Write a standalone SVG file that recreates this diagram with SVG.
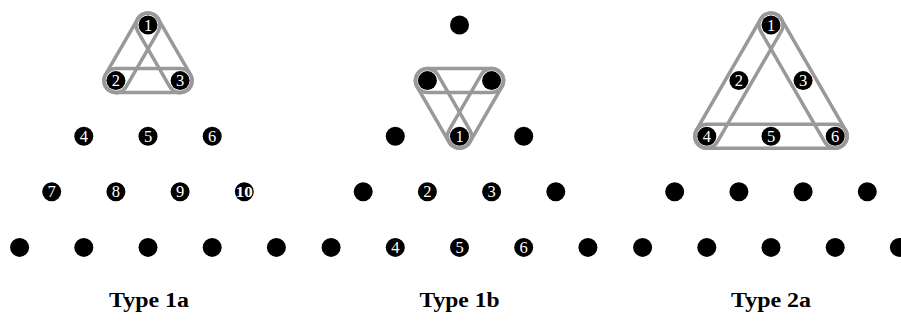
<svg xmlns="http://www.w3.org/2000/svg" xmlns:xlink="http://www.w3.org/1999/xlink" width="901" height="325" viewBox="0 0 901 325">
<style>
.d{fill:#000}
.n{font-family:"Liberation Serif","DejaVu Serif",serif;font-size:16.5px;fill:#fff;text-anchor:middle}
.t{font-family:"Liberation Serif","DejaVu Serif",serif;font-size:20px;font-weight:bold;fill:#000;text-anchor:middle}
.c{fill:none;stroke:#999;stroke-width:3.5}
</style>
<defs>
<path id="cap1" d="M0,12 H64.2 A12,12 0 0 0 64.2,-12 H0 A12,12 0 0 0 0,12 Z"/>
<path id="cap2" d="M0,12 H128.4 A12,12 0 0 0 128.4,-12 H0 A12,12 0 0 0 0,12 Z"/>
</defs>
<rect width="901" height="325" fill="#fff"/>
<g id="connectors" class="c">
<use xlink:href="#cap1" transform="translate(115.9,80.6)"/>
<use xlink:href="#cap1" transform="translate(148,25) rotate(120)"/>
<use xlink:href="#cap1" transform="translate(148,25) rotate(60)"/>
<use xlink:href="#cap1" transform="translate(427.4,80.6)"/>
<use xlink:href="#cap1" transform="translate(427.4,80.6) rotate(60)"/>
<use xlink:href="#cap1" transform="translate(491.6,80.6) rotate(120)"/>
<use xlink:href="#cap2" transform="translate(706.8,136.2)"/>
<use xlink:href="#cap2" transform="translate(771,25) rotate(120)"/>
<use xlink:href="#cap2" transform="translate(771,25) rotate(60)"/>
</g>
<!-- Type 1a -->
<g id="a1"><circle class="d" cx="148" cy="25" r="9.5"/><text class="n" x="148" y="30.6">1</text></g>
<g id="a2"><circle class="d" cx="115.9" cy="80.6" r="9.5"/><text class="n" x="115.9" y="86.2">2</text></g>
<g id="a3"><circle class="d" cx="180.1" cy="80.6" r="9.5"/><text class="n" x="180.1" y="86.2">3</text></g>
<g id="a4"><circle class="d" cx="83.8" cy="136.2" r="9.5"/><text class="n" x="83.8" y="141.8">4</text></g>
<g id="a5"><circle class="d" cx="148" cy="136.2" r="9.5"/><text class="n" x="148" y="141.8">5</text></g>
<g id="a6"><circle class="d" cx="212.2" cy="136.2" r="9.5"/><text class="n" x="212.2" y="141.8">6</text></g>
<g id="a7"><circle class="d" cx="51.7" cy="191.8" r="9.5"/><text class="n" x="51.7" y="197.4">7</text></g>
<g id="a8"><circle class="d" cx="115.9" cy="191.8" r="9.5"/><text class="n" x="115.9" y="197.4">8</text></g>
<g id="a9"><circle class="d" cx="180.1" cy="191.8" r="9.5"/><text class="n" x="180.1" y="197.4">9</text></g>
<g id="a10"><circle class="d" cx="244.3" cy="191.8" r="9.5"/><text class="n" x="244.3" y="196.7" style="font-size:14px;font-weight:bold" textLength="17" lengthAdjust="spacingAndGlyphs">10</text></g>
<g id="a11"><circle class="d" cx="19.6" cy="247.4" r="9.5"/></g>
<g id="a12"><circle class="d" cx="83.8" cy="247.4" r="9.5"/></g>
<g id="a13"><circle class="d" cx="148" cy="247.4" r="9.5"/></g>
<g id="a14"><circle class="d" cx="212.2" cy="247.4" r="9.5"/></g>
<g id="a15"><circle class="d" cx="276.4" cy="247.4" r="9.5"/></g>
<!-- Type 1b -->
<g id="b0"><circle class="d" cx="459.5" cy="25" r="9.5"/></g>
<g id="bA"><circle class="d" cx="427.4" cy="80.6" r="9.5"/></g>
<g id="bB"><circle class="d" cx="491.6" cy="80.6" r="9.5"/></g>
<g id="bL3"><circle class="d" cx="395.3" cy="136.2" r="9.5"/></g>
<g id="b1"><circle class="d" cx="459.5" cy="136.2" r="9.5"/><text class="n" x="459.5" y="141.8">1</text></g>
<g id="bR3"><circle class="d" cx="523.7" cy="136.2" r="9.5"/></g>
<g id="bL4"><circle class="d" cx="363.2" cy="191.8" r="9.5"/></g>
<g id="b2"><circle class="d" cx="427.4" cy="191.8" r="9.5"/><text class="n" x="427.4" y="197.4">2</text></g>
<g id="b3"><circle class="d" cx="491.6" cy="191.8" r="9.5"/><text class="n" x="491.6" y="197.4">3</text></g>
<g id="bR4"><circle class="d" cx="555.8" cy="191.8" r="9.5"/></g>
<g id="bL5"><circle class="d" cx="331.1" cy="247.4" r="9.5"/></g>
<g id="b4"><circle class="d" cx="395.3" cy="247.4" r="9.5"/><text class="n" x="395.3" y="253">4</text></g>
<g id="b5"><circle class="d" cx="459.5" cy="247.4" r="9.5"/><text class="n" x="459.5" y="253">5</text></g>
<g id="b6"><circle class="d" cx="523.7" cy="247.4" r="9.5"/><text class="n" x="523.7" y="253">6</text></g>
<g id="bR5"><circle class="d" cx="587.9" cy="247.4" r="9.5"/></g>
<!-- Type 2a -->
<g id="c1"><circle class="d" cx="771" cy="25" r="9.5"/><text class="n" x="771" y="30.6">1</text></g>
<g id="c2"><circle class="d" cx="738.9" cy="80.6" r="9.5"/><text class="n" x="738.9" y="86.2">2</text></g>
<g id="c3"><circle class="d" cx="803.1" cy="80.6" r="9.5"/><text class="n" x="803.1" y="86.2">3</text></g>
<g id="c4"><circle class="d" cx="706.8" cy="136.2" r="9.5"/><text class="n" x="706.8" y="141.8">4</text></g>
<g id="c5"><circle class="d" cx="771" cy="136.2" r="9.5"/><text class="n" x="771" y="141.8">5</text></g>
<g id="c6"><circle class="d" cx="835.2" cy="136.2" r="9.5"/><text class="n" x="835.2" y="141.8">6</text></g>
<g id="c7"><circle class="d" cx="674.7" cy="191.8" r="9.5"/></g>
<g id="c8"><circle class="d" cx="738.9" cy="191.8" r="9.5"/></g>
<g id="c9"><circle class="d" cx="803.1" cy="191.8" r="9.5"/></g>
<g id="c10"><circle class="d" cx="867.3" cy="191.8" r="9.5"/></g>
<g id="c11"><circle class="d" cx="642.6" cy="247.4" r="9.5"/></g>
<g id="c12"><circle class="d" cx="706.8" cy="247.4" r="9.5"/></g>
<g id="c13"><circle class="d" cx="771" cy="247.4" r="9.5"/></g>
<g id="c14"><circle class="d" cx="835.2" cy="247.4" r="9.5"/></g>
<g id="c15"><circle class="d" cx="899.4" cy="247.4" r="9.5"/></g>
<!-- Labels -->
<text class="t" x="149" y="307" textLength="80" lengthAdjust="spacingAndGlyphs">Type 1a</text>
<text class="t" x="459.5" y="307" textLength="80" lengthAdjust="spacingAndGlyphs">Type 1b</text>
<text class="t" x="771" y="307" textLength="80" lengthAdjust="spacingAndGlyphs">Type 2a</text>
</svg>
